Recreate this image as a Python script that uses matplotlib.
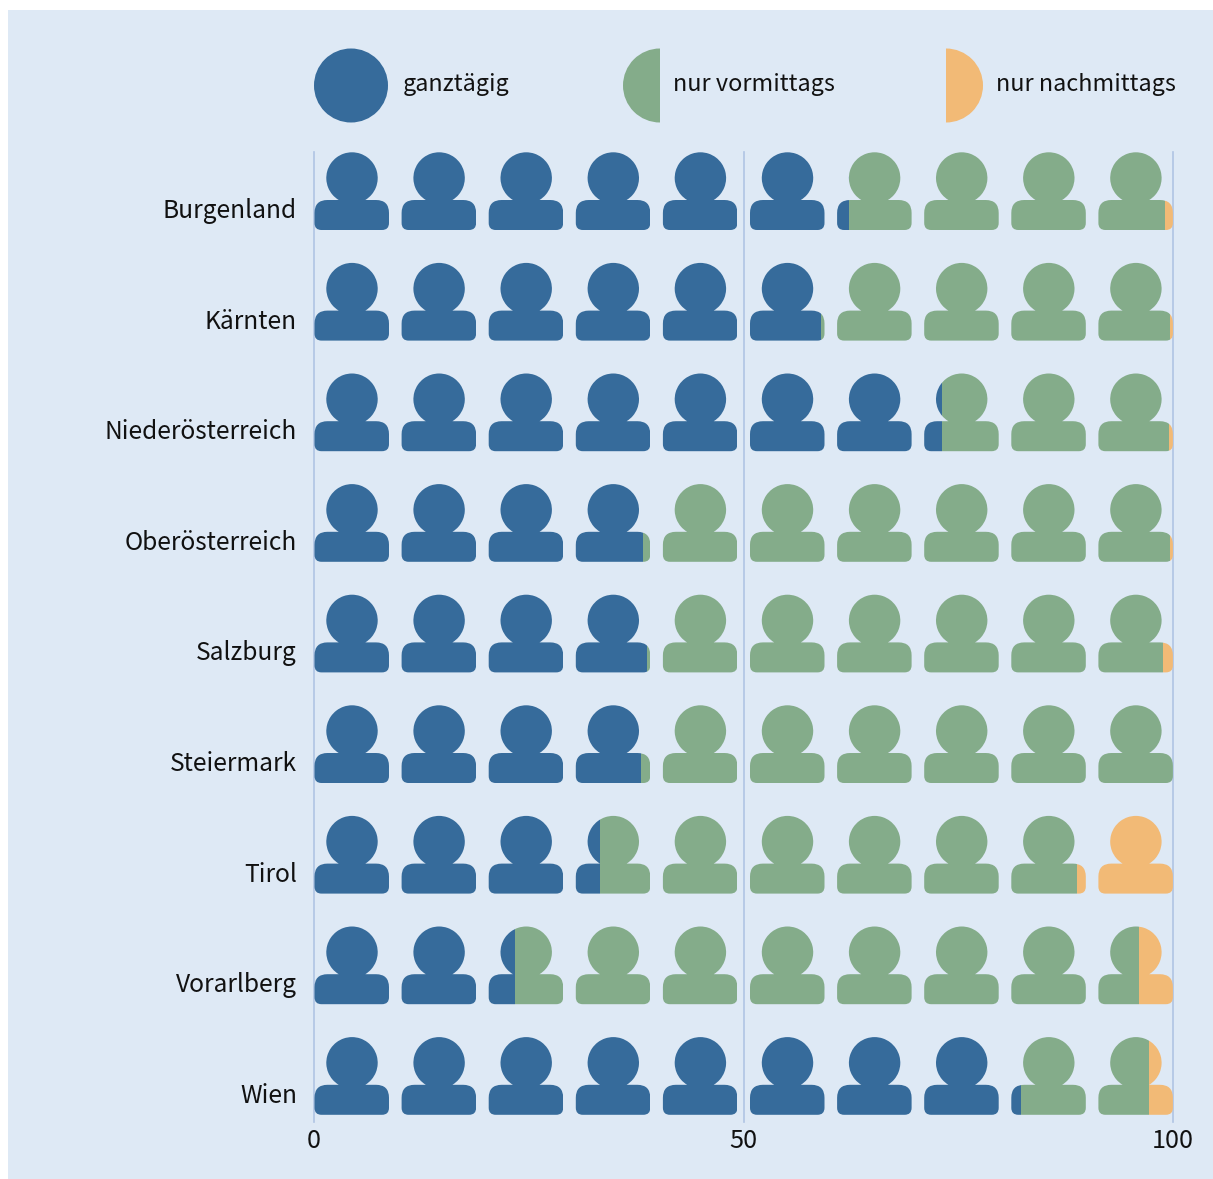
import numpy as np
import matplotlib
matplotlib.use('Agg')
import matplotlib.pyplot as plt
from matplotlib.patches import Circle, PathPatch, Rectangle, Wedge
from matplotlib.path import Path
from matplotlib.transforms import Affine2D

plt.rcParams['font.family'] = ['Noto Sans CJK SC', 'DejaVu Sans']

states = ['Burgenland', 'Kärnten', 'Niederösterreich', 'Oberösterreich', 'Salzburg',
          'Steiermark', 'Tirol', 'Vorarlberg', 'Wien']
ganztaegig = [62.3, 59.0, 73.1, 38.3, 38.8, 38.1, 33.3, 23.4, 82.3]
vormittags = [36.8, 40.7, 26.4, 61.3, 60.0, 61.9, 55.5, 72.6, 14.9]
nachmittags = [0.9, 0.3, 0.5, 0.4, 1.2, 0.0, 11.2, 4.0, 2.8]
legend_labels = ['ganztägig', 'nur vormittags', 'nur nachmittags']
x_ticks = [0, 50, 100]

BG = '#dee9f5'
COLORS = ['#366b9b', '#84ac8a', '#f2ba76']
LINE = '#b0c4e4'
TEXT = '#111111'

W, H = 1213, 1179
X0, X1 = 314, 1173      # pixel position of 0 and 100
ROW0, ROW_STEP = 209, 110.6
TOP, BOTTOM = 152, 1122
ICON_W = 75
ICON_STEP = 87.1


def person_path():
    # one outline in pixels, relative to the icon's left edge and the row's label line.
    # clip paths fill even-odd, so head and body can't simply overlap
    l, r, t, b = 0.5, ICON_W, -9, 21
    rt, rb = 13, 7
    cx, cy, rad = 38, -31, 25.7
    half = np.degrees(np.arcsin((t - cy) / rad))
    arc = Path.arc(180 - half, 360 + half)
    arc_verts = arc.vertices * rad + [cx, cy]
    arc_codes = list(arc.codes)
    verts = [(r - rt, t), (r, t), (r, t + rt), (r, b - rb), (r, b), (r - rb, b),
             (l + rb, b), (l, b), (l, b - rb), (l, t + rt), (l, t), (l + rt, t),
             tuple(arc_verts[0])]
    codes = [Path.LINETO, Path.CURVE3, Path.CURVE3, Path.LINETO, Path.CURVE3, Path.CURVE3,
             Path.LINETO, Path.CURVE3, Path.CURVE3, Path.LINETO, Path.CURVE3, Path.CURVE3,
             Path.CLOSEPOLY]
    return Path(np.vstack([arc_verts, verts]), arc_codes + codes)


fig = plt.figure(figsize=(W / 100, H / 100), dpi=100, facecolor='white')

# backdrop and legend are placed in plain pixels
bg = fig.add_axes([0, 0, 1, 1])
bg.set_xlim(0, W)
bg.set_ylim(H, 0)
bg.axis('off')
bg.add_patch(Rectangle((8, 10), W - 8, H - 10, facecolor=BG, edgecolor='none'))
bg.add_patch(Circle((351, 85.5), 37, facecolor=COLORS[0], edgecolor='none'))
bg.add_patch(Wedge((660, 85.5), 37, 90, 270, facecolor=COLORS[1], edgecolor='none'))
bg.add_patch(Wedge((946, 85.5), 37, 270, 90, facecolor=COLORS[2], edgecolor='none'))
for x, label in zip([403, 673, 996], legend_labels):
    bg.text(x, 84.5, label, fontsize=16.85, color=TEXT, ha='left', va='center')

px_x = 100 / (X1 - X0)
px_y = 1 / ROW_STEP

ax = fig.add_axes([X0 / W, 1 - BOTTOM / H, (X1 - X0) / W, (BOTTOM - TOP) / H])
ax.patch.set_visible(False)
ax.set_xlim(0, 100)
ax.set_ylim((BOTTOM - ROW0) / ROW_STEP, (TOP - ROW0) / ROW_STEP)
for s in ax.spines.values():
    s.set_visible(False)
ax.set_xticks(x_ticks)
ax.set_yticks(np.arange(len(states)) - px_y)
ax.set_yticklabels(states)
ax.tick_params(axis='both', length=0, labelcolor=TEXT)
ax.tick_params(axis='y', pad=12.3, labelsize=17.7)
ax.tick_params(axis='x', pad=4.5, labelsize=18.2)
ax.grid(axis='x', color=LINE, linewidth=1.2, clip_on=False)
ax.set_axisbelow(True)

icon = person_path()

for row in range(len(states)):
    edges = np.cumsum([0, ganztaegig[row], vormittags[row], nachmittags[row]])
    for i in range(10):
        left = i * ICON_STEP * px_x
        tr = Affine2D().scale(px_x, px_y).translate(left, row) + ax.transData
        clip = PathPatch(icon, transform=tr, facecolor='none', edgecolor='none')
        ax.add_patch(clip)
        for k in range(3):
            a = max(edges[k], left)
            b = min(edges[k + 1], left + ICON_W * px_x)
            if b <= a:
                continue
            rect = Rectangle((a, row - 60 * px_y), b - a, 90 * px_y,
                             facecolor=COLORS[k], edgecolor='none')
            ax.add_patch(rect)
            rect.set_clip_path(clip)

fig.savefig('out.png', dpi=100)
